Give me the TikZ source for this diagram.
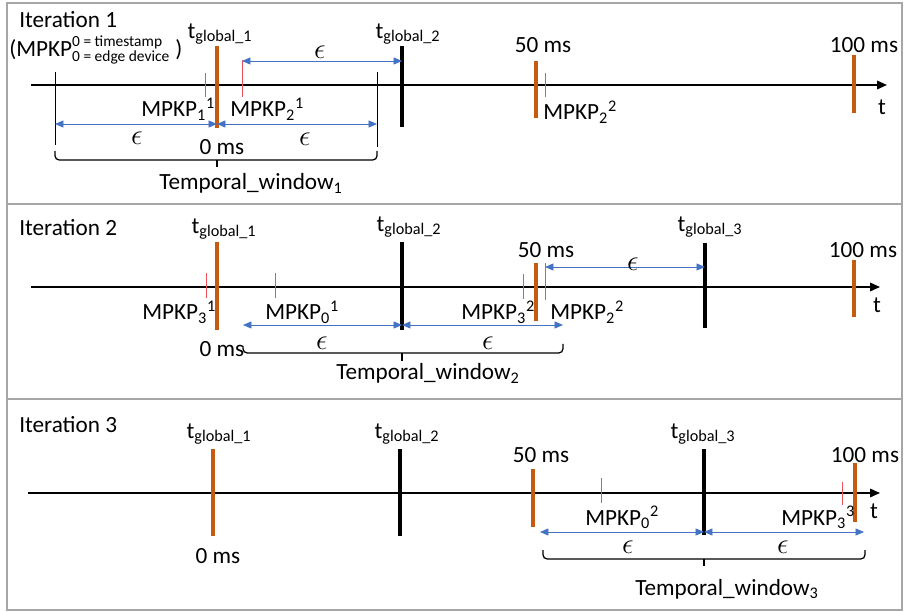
\documentclass[tikz,border=0pt]{standalone}
\usepackage{fontspec}
\setmainfont{Carlito}
\usetikzlibrary{arrows.meta}
\definecolor{barorange}{HTML}{C55A11}
\definecolor{tickred}{HTML}{F0505A}
\definecolor{epsblue}{HTML}{4472C4}
\definecolor{framegray}{HTML}{A6A6A6}
\newcommand\hdrsize{\fontsize{11}{12}\selectfont}

\begin{document}
\begin{tikzpicture}[
	x=0.25mm, y=-0.25mm,
	font=\fontsize{16.5}{19}\selectfont,
	every node/.style={inner sep=0pt},
	panel/.style={draw=framegray, line width=0.8pt},
	timeaxis/.style={line width=1.2pt, -{Triangle[length=7pt,width=6pt]}},
	gbar/.style={line width=2.4pt},
	obar/.style={line width=2.4pt, barorange},
	rtick/.style={line width=0.7pt, tickred},
	winedge/.style={line width=0.7pt},
	epsarrow/.style={epsblue, line width=0.6pt, {Triangle[length=6pt,width=5pt]}-{Triangle[length=6pt,width=5pt]}},
	epslabel/.style={font=\fontsize{21}{21}\selectfont},
	bracket/.style={line width=0.9pt, rounded corners=3pt},
	]
\useasboundingbox (0,0) rectangle (904,612);
\draw[panel] (7,3) rectangle (902,610);
\draw[panel] (7,204) -- (902,204);
\draw[panel] (7,399) -- (902,399);

\node[anchor=base west] (it1) at (19,28) {Iteration 1};
\node[anchor=base west] (hdr) at (9,57)
  {(MPKP$^{\mbox{\hdrsize 0 = timestamp}}_{\mbox{\hdrsize 0 = edge device}}$ )};
\draw[timeaxis] (31,85) -- (887,85);
\node[anchor=base] (t1) at (882,115) {t};
\draw[winedge] (55,72) -- (55,145);
\draw[winedge] (377,72) -- (377,147);
\draw[rtick] (205,73) -- (205,97);
\draw[rtick] (242,60) -- (242,97);
\draw[obar] (217,46) -- (217,128);
\draw[gbar] (402,46) -- (402,127);
\draw[obar] (536,61) -- (536,118);
\draw[rtick] (545,73) -- (545,97);
\draw[obar] (854,55) -- (854,113);
\coordinate (p1a) at (242,61);
\coordinate (p1b) at (402,61);
\coordinate (w1l) at (55,124);
\coordinate (w1m) at (217,124);
\coordinate (w1r) at (377,124);
\draw[epsarrow] (p1a) -- (p1b);
\draw[epsarrow] (w1l) -- (w1m);
\draw[epsarrow] (w1m) -- (w1r);
\node[epslabel] (e1a) at (320,52) {$\epsilon$};
\node[epslabel] (e1b) at (137,138) {$\epsilon$};
\node[epslabel] (e1c) at (305,139) {$\epsilon$};
\node[anchor=south] (tg11) at (220,45) {t\textsubscript{global\_1}};
\node[anchor=south] (tg12) at (408,45) {t\textsubscript{global\_2}};
\node[anchor=base] (ms501) at (543,53) {50 ms};
\node[anchor=base] (ms1001) at (864,53) {100 ms};
\node[anchor=base west] (k11) at (141,117) {MPKP\textsubscript{1}\textsuperscript{1}};
\node[anchor=base west] (k21) at (230,117) {MPKP\textsubscript{2}\textsuperscript{1}};
\node[anchor=base west] (k22) at (543,120) {MPKP\textsubscript{2}\textsuperscript{2}};
\node[anchor=base] (ms01) at (222,155) {0 ms};
\draw[bracket] (55,151) |- (377,160) -- (377,151);
\draw[bracket] (217,160) -- (217,167);
\node[anchor=base] (tw1) at (251,190) {Temporal\_window\textsubscript{1}};

\node[anchor=base west] (it2) at (19,236) {Iteration 2};
\draw[timeaxis] (31,287) -- (880,287);
\node[anchor=base] (t2) at (877,313) {t};
\draw[rtick] (206,273) -- (206,298);
\draw[rtick] (275,273) -- (275,298);
\draw[obar] (217,242) -- (217,330);
\draw[gbar] (402,242) -- (402,330);
\draw[rtick] (523,274) -- (523,299);
\draw[obar] (536,263) -- (536,321);
\draw[rtick] (545,263) -- (545,300);
\draw[gbar] (705,243) -- (705,328);
\draw[obar] (854,260) -- (854,317);
\coordinate (p2a) at (545,267);
\coordinate (p2b) at (705,267);
\coordinate (w2l) at (243,325);
\coordinate (w2m) at (402,325);
\coordinate (w2r) at (563,325);
\draw[epsarrow] (p2a) -- (p2b);
\draw[epsarrow] (w2l) -- (w2m);
\draw[epsarrow] (w2m) -- (w2r);
\node[epslabel] (e2a) at (633,264) {$\epsilon$};
\node[epslabel] (e2b) at (322,343) {$\epsilon$};
\node[epslabel] (e2c) at (488,343) {$\epsilon$};
\node[anchor=south] (tg21) at (224,240) {t\textsubscript{global\_1}};
\node[anchor=south] (tg22) at (409,238) {t\textsubscript{global\_2}};
\node[anchor=south] (tg23) at (710,238) {t\textsubscript{global\_3}};
\node[anchor=base] (ms502) at (546,258) {50 ms};
\node[anchor=base] (ms1002) at (863,258) {100 ms};
\node[anchor=base west] (k31) at (142,320) {MPKP\textsubscript{3}\textsuperscript{1}};
\node[anchor=base west] (k01) at (265,320) {MPKP\textsubscript{0}\textsuperscript{1}};
\node[anchor=base west] (k32) at (461,320) {MPKP\textsubscript{3}\textsuperscript{2}};
\node[anchor=base west] (k22b) at (550,320) {MPKP\textsubscript{2}\textsuperscript{2}};
\node[anchor=base] (ms02) at (222,357) {0 ms};
\draw[bracket] (243,346) |- (563,353) -- (563,344);
\draw[bracket] (402,353) -- (402,361);
\node[anchor=base] (tw2) at (428,380) {Temporal\_window\textsubscript{2}};

\node[anchor=base west] (it3) at (19,432) {Iteration 3};
\draw[timeaxis] (28,493) -- (880,493);
\node[anchor=base] (t3) at (874,518) {t};
\draw[obar] (213,449) -- (213,536);
\draw[gbar] (400,449) -- (400,536);
\draw[obar] (533,469) -- (533,527);
\draw[rtick] (601,478) -- (601,503);
\draw[gbar] (704,449) -- (704,535);
\draw[rtick] (842,482) -- (842,505);
\draw[obar] (855,463) -- (855,522);
\coordinate (w3l) at (540,532);
\coordinate (w3m) at (704,532);
\coordinate (w3r) at (864,532);
\draw[epsarrow] (w3l) -- (w3m);
\draw[epsarrow] (w3m) -- (w3r);
\node[epslabel] (e3a) at (628,547) {$\epsilon$};
\node[epslabel] (e3b) at (783,547) {$\epsilon$};
\node[anchor=south] (tg31) at (219,445) {t\textsubscript{global\_1}};
\node[anchor=south] (tg32) at (407,445) {t\textsubscript{global\_2}};
\node[anchor=south] (tg33) at (703,445) {t\textsubscript{global\_3}};
\node[anchor=base] (ms03) at (218,563) {0 ms};
\node[anchor=base] (ms503) at (541,462) {50 ms};
\node[anchor=base] (ms1003) at (865,462) {100 ms};
\node[anchor=base west] (k02) at (585,525) {MPKP\textsubscript{0}\textsuperscript{2}};
\node[anchor=base west] (k33) at (781,525) {MPKP\textsubscript{3}\textsuperscript{3}};
\draw[bracket] (543,550) |- (865,559) -- (865,550);
\draw[bracket] (704,559) -- (704,566);
\node[anchor=base] (tw3) at (727,595) {Temporal\_window\textsubscript{3}};
\end{tikzpicture}
\end{document}
